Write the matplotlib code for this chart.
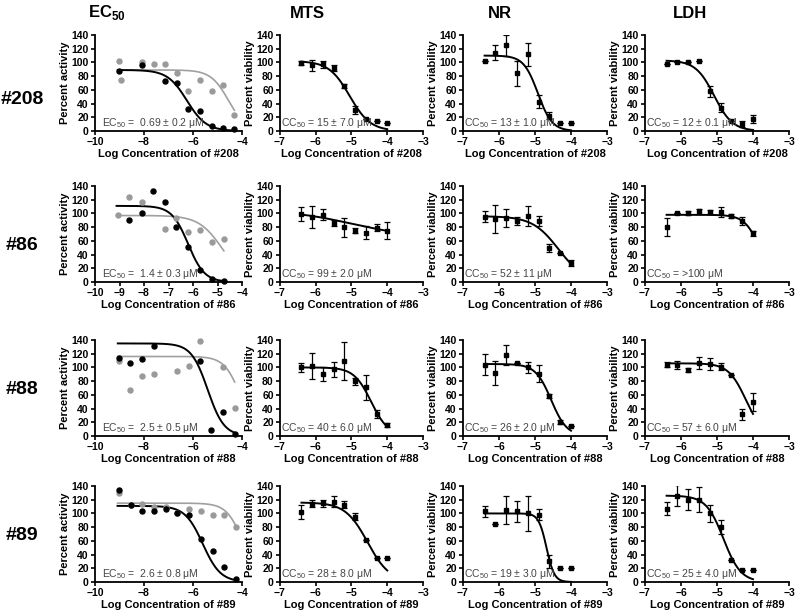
import numpy as np
import matplotlib
matplotlib.use("Agg")
import matplotlib.pyplot as plt

plt.rcParams['font.family'] = ['Liberation Sans', 'DejaVu Sans']
plt.rcParams['mathtext.fontset'] = 'custom'
plt.rcParams['mathtext.rm'] = 'Liberation Sans'
plt.rcParams['mathtext.bf'] = 'Liberation Sans:bold'

compounds = ['#208', '#86', '#88', '#89']
assays = ['MTS', 'NR', 'LDH']

# ---- EC50 column (black = antiviral activity, gray = second series)
ec_x_black = {
    '#208': [-9.02, -8.07, -7.14, -6.67, -6.19, -5.71, -5.24, -4.79, -4.31],
    '#86': [-8.6, -8.09, -7.64, -7.16, -6.7, -6.19, -5.72, -5.23, -4.74],
    '#88': [-9.02, -8.57, -8.09, -7.59, -5.73, -5.25, -4.78, -4.3],
    '#89': [-9.03, -8.55, -8.07, -7.6, -7.12, -6.64, -6.16, -5.68, -5.2, -4.73, -4.25],
}
ec_y_black = {
    '#208': [88, 96, 73, 70, 32, 29, 8, 4, 3],
    '#86': [91, 100, 132, 116, 80, 51, 17, 4, 2],
    '#88': [114, 107, 113, 131, 110, 9, 35, 3],
    '#89': [134, 112, 104, 104, 106, 100, 97, 62, 45, 22, 4],
}
ec_x_gray = {
    '#208': [-9.02, -8.94, -8.07, -7.6, -7.14, -6.67, -6.19, -5.71, -5.24, -4.79, -4.31],
    '#86': [-9.07, -8.6, -8.09, -7.16, -6.7, -6.19, -5.72, -5.23, -4.74],
    '#88': [-9.02, -8.57, -8.09, -7.59, -6.66, -6.18, -5.73, -4.78, -4.3],
    '#89': [-9.03, -8.55, -8.07, -7.6, -7.12, -6.64, -6.16, -5.68, -5.2, -4.73, -4.25],
}
ec_y_gray = {
    '#208': [102, 75, 101, 97, 98, 85, 58, 74, 59, 67, 24],
    '#86': [97, 124, 116, 78, 93, 73, 76, 59, 62],
    '#88': [110, 67, 87, 90, 95, 102, 139, 101, 41],
    '#89': [130, 113, 114, 110, 109, 100, 106, 104, 97, 98, 80],
}
# fitted curve parameters: top, bottom, logEC50, hill
ec_fit_black = {'#208': (89, 0, -6.25, 1.1), '#86': (111, 0, -6.2, 1.3),
                '#88': (135, 0, -5.4, 1.3), '#89': (111, 0, -5.6, 1.2)}
ec_fit_gray = {'#208': (89, 0, -4.55, 1.2), '#86': (97, 0, -4.8, 0.9),
               '#88': (116, 0, -4.05, 1.3), '#89': (115, 0, -3.95, 1.3)}
ec_text = {'#208': '0.69 \u00b1 0.2', '#86': '1.4 \u00b1 0.3',
           '#88': '2.5 \u00b1 0.5', '#89': '2.6 \u00b1 0.8'}

# ---- cytotoxicity columns
tox_x = [-6.4, -6.1, -5.8, -5.5, -5.2, -4.9, -4.6, -4.3, -4.0]
tox_mean = {
    ('#208', 'MTS'): [99, 96, 97, 92, 65, 31, 18, 14, 11],
    ('#208', 'NR'): [102, 114, 125, 84, 112, 43, 22, 11, 12],
    ('#208', 'LDH'): [97, 100, 100, 102, 58, 34, 14, 10, 18],
    ('#86', 'MTS'): [99, 95, 98, 86, 80, 75, 72, 79, 75],
    ('#86', 'NR'): [95, 92, 93, 89, 96, 89, 50, 42, 28],
    ('#86', 'LDH'): [80, 100, 100, 103, 102, 102, 96, 89, 71],
    ('#88', 'MTS'): [100, 102, 90, 97, 109, 80, 71, 32, 16],
    ('#88', 'NR'): [104, 92, 118, 106, 100, 91, 58, 21, 14],
    ('#88', 'LDH'): [104, 103, 96, 106, 105, 101, 89, 32, 49],
    ('#89', 'MTS'): [102, 114, 115, 117, 113, 95, 61, 35, 35],
    ('#89', 'NR'): [103, 85, 105, 103, 100, 98, 30, 20, 20],
    ('#89', 'LDH'): [107, 126, 120, 120, 100, 80, 32, 18, 17],
}
tox_err = {
    ('#208', 'MTS'): [3, 8, 5, 4, 3, 6, 0, 0, 0],
    ('#208', 'NR'): [0, 11, 15, 18, 17, 9, 5, 0, 0],
    ('#208', 'LDH'): [0, 0, 0, 0, 8, 7, 0, 4, 6],
    ('#86', 'MTS'): [10, 16, 8, 4, 14, 4, 9, 5, 12],
    ('#86', 'NR'): [8, 21, 13, 6, 15, 7, 6, 0, 4],
    ('#86', 'LDH'): [13, 0, 3, 4, 3, 7, 3, 6, 4],
    ('#88', 'MTS'): [7, 19, 10, 11, 28, 5, 18, 6, 3],
    ('#88', 'NR'): [15, 18, 14, 0, 8, 12, 3, 3, 0],
    ('#88', 'LDH'): [4, 6, 3, 9, 9, 5, 0, 8, 13],
    ('#89', 'MTS'): [10, 5, 5, 8, 5, 5, 0, 0, 0],
    ('#89', 'NR'): [8, 0, 20, 15, 25, 8, 10, 0, 0],
    ('#89', 'LDH'): [10, 15, 15, 18, 12, 10, 0, 0, 0],
}
tox_fit = {
    ('#208', 'MTS'): (102, 0, -5.05, 1.5),
    ('#208', 'NR'): (110, 0, -4.92, 2.2),
    ('#208', 'LDH'): (103, 0, -5.08, 1.7),
    ('#86', 'MTS'): (105, 65, -5.0, 0.5),
    ('#86', 'NR'): (96, 0, -4.35, 1.2),
    ('#86', 'LDH'): (98, 0, -3.8, 2.0),
    ('#88', 'MTS'): (100, 0, -4.45, 1.8),
    ('#88', 'NR'): (105, 0, -4.55, 2.0),
    ('#88', 'LDH'): (106, 0, -4.2, 1.8),
    ('#89', 'MTS'): (116, 0, -4.55, 1.4),
    ('#89', 'NR'): (100, 0, -4.68, 4.0),
    ('#89', 'LDH'): (126, 0, -4.82, 1.8),
}
tox_text = {
    ('#208', 'MTS'): '15 \u00b1 7.0 \u03bcM', ('#208', 'NR'): '13 \u00b1 1.0 \u03bcM',
    ('#208', 'LDH'): '12 \u00b1 0.1 \u03bcM',
    ('#86', 'MTS'): '99 \u00b1 2.0 \u03bcM', ('#86', 'NR'): '52 \u00b1 11 \u03bcM',
    ('#86', 'LDH'): '>100 \u03bcM',
    ('#88', 'MTS'): '40 \u00b1 6.0 \u03bcM', ('#88', 'NR'): '26 \u00b1 2.0 \u03bcM',
    ('#88', 'LDH'): '57 \u00b1 6.0 \u03bcM',
    ('#89', 'MTS'): '28 \u00b1 8.0 \u03bcM', ('#89', 'NR'): '19 \u00b1 3.0 \u03bcM',
    ('#89', 'LDH'): '25 \u00b1 4.0 \u03bcM',
}


def logistic(x, top, bottom, x50, hill):
    return bottom + (top - bottom) / (1 + 10 ** (hill * (x - x50)))


W, H = 800, 616
fig = plt.figure(figsize=(8, 6.16), dpi=100)

col_left = [95, 280, 463, 645]
col_width = [147, 143, 144, 144]
row_top = [35, 186, 340, 486]
ax_h = 96


def make_ax(r, c):
    left = col_left[c] / W
    bottom = 1 - (row_top[r] + ax_h) / H
    return fig.add_axes([left, bottom, col_width[c] / W, ax_h / H])


def style(ax):
    for s in ['top', 'right']:
        ax.spines[s].set_visible(False)
    for s in ['left', 'bottom']:
        ax.spines[s].set_linewidth(1.3)
    ax.tick_params(direction='out', length=3, width=1.2, labelsize=7.5, pad=1.5)
    for lab in ax.get_xticklabels() + ax.get_yticklabels():
        lab.set_fontweight('bold')
    ax.set_ylim(0, 140)
    ax.set_yticks(range(0, 141, 20))
    ax.patch.set_alpha(0)


for r, cmp in enumerate(compounds):
    # EC50 panel
    ax = make_ax(r, 0)
    ax.set_xlim(-10, -4)
    if cmp == '#86':
        ax.set_xticks(range(-10, -3))
    else:
        ax.set_xticks([-10, -8, -6, -4])
    xs = np.linspace(min(ec_x_gray[cmp] + ec_x_black[cmp]) - 0.05, max(ec_x_gray[cmp]), 200)
    ax.plot(xs, logistic(xs, *ec_fit_gray[cmp]), color='#a0a0a0', lw=1.2, clip_on=False)
    ax.plot(xs, logistic(xs, *ec_fit_black[cmp]), color='black', lw=1.4, clip_on=False)
    ax.plot(ec_x_gray[cmp], ec_y_gray[cmp], 'o', color='#9a9a9a', ms=3.6, clip_on=False)
    ax.plot(ec_x_black[cmp], ec_y_black[cmp], 'o', color='black', ms=3.6, clip_on=False)
    style(ax)
    ax.set_ylabel('Percent activity', fontsize=8, fontweight='bold', labelpad=1)
    ax.set_xlabel('Log Concentration of ' + cmp, fontsize=8, fontweight='bold', labelpad=1)
    ax.text(0.05, 0.01, 'EC$_{50}$ =  ' + ec_text[cmp] + ' \u03bcM', transform=ax.transAxes,
            fontsize=7.5, color='#444444', va='bottom', ha='left')

    # cytotoxicity panels
    for c, assay in enumerate(assays):
        ax = make_ax(r, c + 1)
        key = (cmp, assay)
        ax.set_xlim(-7, -3)
        ax.set_xticks(range(-7, -2))
        xs = np.linspace(tox_x[0], tox_x[-1], 200)
        ys = logistic(xs, *tox_fit[key])
        ax.plot(xs, ys, color='black', lw=1.4)
        ax.errorbar(tox_x, tox_mean[key], yerr=tox_err[key], fmt='s', color='black',
                    ms=3.5, capsize=2, elinewidth=0.9, capthick=0.9)
        style(ax)
        ax.set_ylabel('Percent viability', fontsize=8, fontweight='bold', labelpad=1)
        ax.set_xlabel('Log Concentration of ' + cmp, fontsize=8, fontweight='bold', labelpad=1)
        ax.text(0.01, 0.01, 'CC$_{50}$ = ' + tox_text[key], transform=ax.transAxes,
                fontsize=7.5, color='#444444', va='bottom', ha='left')

# column headers
fig.text(107 / W, 1 - 13 / H, 'EC$_{\\mathbf{50}}$', fontsize=12, fontweight='bold',
         ha='center', va='center')
for x, t in zip([307, 500, 690], assays):
    fig.text(x / W, 1 - 13 / H, t, fontsize=12, fontweight='bold', ha='center', va='center')

# row labels
for y, cmp in zip([100, 245, 390, 535], compounds):
    fig.text(22 / W, 1 - y / H, cmp, fontsize=14, fontweight='bold', ha='center', va='center')

fig.savefig('out.png', dpi=100, facecolor='white')
